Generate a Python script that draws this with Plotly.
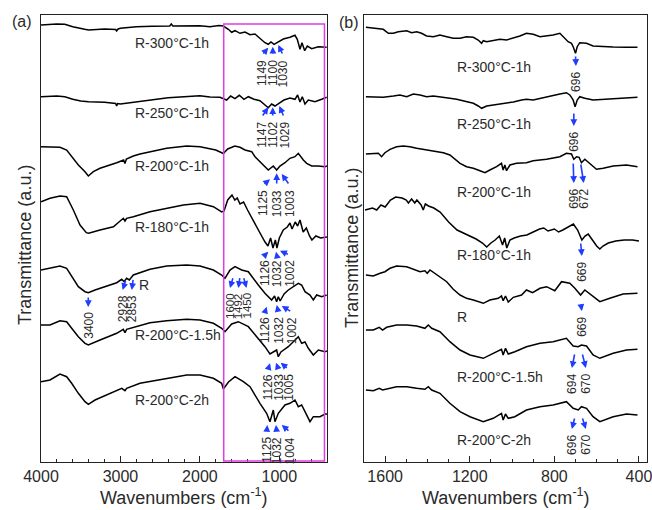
import plotly.graph_objects as go

# ---------------- DATA: panel (a), full range 4000-400 cm-1 (values in a.u., stacked) ----------------
a_labels = ["R-300°C-1h", "R-250°C-1h", "R-200°C-1h", "R-180°C-1h", "R", "R-200°C-1.5h", "R-200°C-2h"]

a_r300_wn = [4000, 3800, 3700, 3600, 3450, 3400, 3200, 3060, 3048, 3030, 3000, 2800, 2600, 2380, 2360, 2340,
             2000, 1873, 1760, 1705, 1642, 1600, 1558, 1495, 1432, 1369, 1307, 1244, 1181, 1139, 1105, 1067,
             1013, 950, 866, 803, 774, 740, 715, 681, 648, 593, 509, 404]
a_r300_t = [437, 438, 437.7, 435.3, 432.7, 432, 433, 432.5, 431, 433, 433.7, 435.3, 435.7, 436, 438, 436,
            436.3, 435.3, 436.5, 436, 432.7, 429.7, 431.3, 428.7, 430, 427.3, 428, 423.7, 419.3, 417.7, 420, 417.7,
            420.3, 423, 424.7, 426.7, 422.7, 412.7, 419.3, 411.3, 416, 413.3, 415.3, 414.7]

a_r250_wn = [4000, 3800, 3700, 3600, 3500, 3400, 3200, 3060, 3048, 3035, 3000, 2800, 2600, 2400, 2000, 1873,
             1747, 1663, 1613, 1558, 1504, 1445, 1390, 1319, 1244, 1181, 1139, 1097, 1055, 1005, 942, 866, 803,
             770, 740, 711, 677, 635, 551, 467, 404]
a_r250_t = [365.3, 366, 365.3, 362.7, 361, 360.3, 359.7, 358.5, 356, 358.5, 358, 360.3, 362.7, 364.3, 366.3, 365,
            364.7, 362, 366, 363.3, 366.7, 362.7, 365.3, 362.7, 361.3, 357, 354.3, 358, 356, 358.7, 362, 364, 362.7,
            367, 360, 365.3, 358, 362, 360.3, 362.7, 364.7]

a_r200_wn = [4000, 3887, 3761, 3677, 3614, 3530, 3446, 3404, 3341, 3257, 3047, 2960, 2943, 2925, 2838, 2754,
             2418, 2166, 1998, 1900, 1800, 1705, 1684, 1650, 1560, 1495, 1432, 1348, 1306, 1223, 1139, 1076,
             1034, 992, 929, 866, 803, 761, 727, 698, 656, 593, 509, 425, 400]
a_r200_t = [315.3, 315.3, 314.7, 312, 305.3, 297, 290.3, 286, 290.3, 293.7, 299.3, 302, 298.5, 303, 306, 308,
            313.7, 316, 315.3, 313.5, 312, 308.5, 310.3, 313, 316, 314.7, 312, 310.3, 305.3, 298.7, 292, 296,
            292, 296, 299.3, 303.7, 305.3, 308.7, 304.7, 302, 298.7, 296, 296, 295.3, 296]

a_r180_wn = [4000, 3887, 3761, 3677, 3593, 3509, 3430, 3400, 3257, 3089, 2964, 2943, 2922, 2838, 2628, 2418,
             2208, 1998, 1830, 1726, 1696, 1650, 1596, 1560, 1530, 1495, 1450, 1400, 1330, 1250, 1180, 1143,
             1110, 1080, 1050, 1030, 1000, 950, 900, 866, 840, 800, 770, 740, 700, 660, 620, 590, 540, 480, 400]
a_r180_t = [260.3, 263.7, 266, 265.3, 252, 237, 229.3, 228.7, 232, 235.3, 243.7, 241, 243.7, 245.3, 250.3, 253.7,
            257, 258.7, 255.3, 250, 251, 262, 267, 262, 264, 258, 260, 252, 241, 230, 220, 216,
            224, 214, 222, 214, 224, 232, 235, 239, 233, 240, 236, 242, 230, 234, 226, 222, 226, 224, 225]

a_r_wn = [4000, 3887, 3761, 3677, 3614, 3530, 3446, 3404, 3320, 3257, 3173, 3047, 2984, 2955, 2922, 2888, 2838,
          2628, 2418, 2166, 1998, 1830, 1726, 1684, 1621, 1558, 1474, 1390, 1265, 1181, 1097, 1060, 1034, 1013,
          990, 940, 887, 803, 761, 719, 677, 614, 572, 530, 467, 404]
a_r_t = [192, 193.7, 196, 193.7, 185.3, 175.3, 170.3, 169.3, 172, 173.7, 175.3, 179.3, 182.7, 180.3, 183.7, 182, 187,
         192.7, 196, 197, 196, 192, 187, 183.7, 192, 195.3, 192, 190.3, 177, 168.7, 162, 166, 160.3, 165.3,
         161, 168, 172, 177, 178.7, 177, 170.3, 167, 162, 167, 165.3, 167]

a_r15_wn = [4000, 3887, 3761, 3677, 3614, 3530, 3446, 3404, 3257, 3047, 2964, 2943, 2922, 2838, 2628, 2418, 2166,
            1998, 1830, 1726, 1684, 1600, 1516, 1390, 1265, 1181, 1118, 1070, 1034, 1013, 980, 887, 803, 761, 719,
            677, 635, 572, 509, 425, 400]
a_r15_t = [137, 137, 141.3, 140.3, 133.7, 125.3, 118.7, 117, 122, 128.7, 132.7, 129.3, 132.7, 134.7, 139.3, 141.3, 142.7,
           142, 138.7, 133.7, 130.3, 138, 140.3, 135.3, 123.7, 115.3, 108, 110, 112, 105.3, 110, 115.3, 122, 125.3, 118.7,
           120, 113.7, 107, 112, 110.3, 111]

a_r2_wn = [4000, 3887, 3761, 3677, 3614, 3530, 3446, 3404, 3320, 3150, 2984, 2943, 2922, 2754, 2418, 2166, 1998,
           1830, 1726, 1705, 1640, 1558, 1453, 1369, 1244, 1160, 1118, 1076, 1055, 1013, 929, 866, 803, 761, 719,
           677, 614, 572, 488, 425, 400]
a_r2_t = [80.3, 82, 88, 85.3, 78.7, 68.7, 60.3, 57.7, 62, 68, 73.7, 71.3, 73.7, 78.7, 83.7, 87, 87,
          83.7, 78.7, 73, 80, 85.3, 80.3, 75.3, 58.7, 48.7, 40.3, 52, 40.3, 48.7, 57, 58.7, 62, 55.3, 57,
          50.3, 40.3, 45.3, 45.3, 48, 48]

# ---------------- DATA: panel (b), 1700-400 cm-1 ----------------
b_r300_wn = [1691, 1656, 1609, 1585, 1561, 1538, 1498, 1475, 1451, 1428, 1404, 1372, 1341, 1309, 1278, 1246, 1215,
             1183, 1160, 1144, 1136, 1120, 1089, 1057, 1026, 994, 963, 932, 900, 868, 837, 806, 774, 758, 735, 719,
             711, 700, 692, 680, 648, 617, 569, 522, 459, 407]
b_r300_t = [434.7, 433.7, 432.7, 428.7, 428.7, 430.3, 431.3, 429.3, 430.3, 428.7, 426, 425.3, 427, 425.3, 423.7, 423.7, 425.3,
            424.7, 422, 418.7, 421.3, 420.3, 421.3, 422.7, 422, 423.7, 426, 428.7, 427.7, 425.3, 426, 427, 428.7, 425.3, 420.3, 418.7,
            415.3, 408.7, 415.3, 419.3, 418.7, 416, 415.3, 415, 414.7, 414.7]

b_r250_wn = [1691, 1656, 1609, 1561, 1530, 1498, 1467, 1435, 1404, 1372, 1341, 1294, 1262, 1215, 1183, 1160, 1144,
             1120, 1089, 1057, 1026, 994, 955, 932, 900, 868, 837, 806, 774, 743, 727, 719, 711, 702, 692, 680,
             656, 617, 569, 522, 459, 407]
b_r250_t = [365.3, 365.3, 364.7, 366, 367, 365.3, 368, 367, 365.3, 366, 365.3, 363.7, 362.7, 360.3, 358.7, 356, 353.7,
            356, 357, 358, 358.7, 360, 362, 362.7, 362, 363.7, 365.3, 367, 368, 369.3, 367, 364.7, 362, 355.3, 362, 365.3,
            363.7, 362, 362.7, 362.7, 363.7, 364.7]

b_r200_wn = [1691, 1656, 1632, 1617, 1601, 1577, 1546, 1514, 1483, 1451, 1420, 1388, 1357, 1325, 1294, 1270, 1246,
             1215, 1183, 1152, 1128, 1105, 1073, 1050, 1042, 1034, 1026, 1010, 979, 932, 900, 837, 774, 743, 719,
             708, 695, 683, 672, 656, 632, 601, 569, 522, 459, 407]
b_r200_t = [308, 308, 308.7, 305.3, 309.3, 312.7, 315.3, 316, 315.3, 313.7, 312.7, 311.3, 310.3, 309.3, 307, 302.7, 298.7,
            295.3, 293.7, 291.3, 289.3, 292, 295.3, 298.7, 292, 297, 291.3, 297, 298.7, 299.3, 301.3, 302.7, 305.3, 308.7, 308,
            302.7, 305.3, 304.7, 299.3, 302.7, 298.7, 292.7, 293.7, 296, 297, 295.3]

b_r180_wn = [1695, 1660, 1640, 1620, 1600, 1575, 1550, 1520, 1500, 1490, 1475, 1460, 1450, 1430, 1420, 1410, 1395,
             1370, 1340, 1300, 1260, 1230, 1200, 1170, 1140, 1120, 1100, 1080, 1060, 1045, 1035, 1025, 1010, 990,
             960, 930, 900, 870, 850, 830, 800, 780, 760, 730, 710, 690, 670, 655, 640, 620, 600, 585, 570, 545,
             510, 470, 430, 400]
b_r180_t = [252, 254, 252, 257, 255, 262, 265, 264, 262, 259, 263, 259, 262, 257, 252, 258, 256,
            254, 250, 240, 232, 229, 226, 223, 219, 215, 219, 222, 226, 217, 224, 214, 222, 224,
            226, 227, 230, 233, 234, 231, 233, 230, 232, 236, 238, 232, 222, 226, 228, 222, 216, 213, 216, 219,
            221, 222, 222, 221]

b_r_wn = [1691, 1656, 1624, 1601, 1577, 1546, 1498, 1467, 1435, 1412, 1401, 1388, 1365, 1341, 1309, 1278, 1246,
          1215, 1183, 1136, 1105, 1065, 1050, 1042, 1031, 1018, 994, 955, 932, 903, 868, 837, 798, 766, 727, 703,
          676, 656, 617, 585, 538, 475, 407]
b_r_t = [187, 186, 188.7, 190.3, 193.7, 196, 195.3, 192.7, 190.3, 191.3, 188.7, 192, 188.7, 185.3, 180.3, 172.7, 167,
         163.7, 162, 158.7, 162, 163.7, 166, 161.3, 166, 160, 164.7, 167, 172, 169.3, 173.7, 175.3, 171.3, 180.3, 178.7, 173.7,
         167, 172, 165.3, 160.3, 163.7, 168, 168.7]

b_r15_wn = [1691, 1656, 1628, 1612, 1593, 1546, 1498, 1451, 1412, 1396, 1380, 1341, 1294, 1246, 1199, 1136, 1089,
            1050, 1042, 1031, 1018, 987, 932, 868, 806, 743, 711, 687, 672, 648, 617, 585, 522, 459, 407]
b_r15_t = [132, 132, 134.7, 132, 134.7, 137, 137, 136, 133.7, 137, 133.7, 130.3, 120.3, 112, 107, 103.7, 108.7,
           112.7, 107, 113.7, 108, 110.3, 115.3, 118.7, 120.3, 123.7, 116, 115.3, 117, 116, 107, 103.7, 108.7, 112, 112.7]

b_r2_wn = [1691, 1656, 1628, 1612, 1546, 1498, 1451, 1412, 1396, 1380, 1341, 1294, 1246, 1199, 1136, 1089, 1050,
           1042, 1031, 1018, 987, 932, 868, 806, 743, 711, 687, 672, 648, 617, 585, 522, 459, 407]
b_r2_t = [72, 71.3, 73.7, 72, 75.3, 75.3, 73.7, 72.7, 75.3, 72, 68.7, 58.7, 50.3, 45.3, 40.3, 43.7, 48.7,
          42, 48, 43.7, 45.3, 52, 55.3, 57, 60.3, 53.7, 52, 55.3, 53.7, 45.3, 40.3, 45.3, 48, 47]

# peak labels (wavenumbers, cm-1)
a_peaks = [["1149", "1100", "1030"], ["1147", "1102", "1029"], ["1125", "1033", "1003"],
           ["1126", "1032", "1002"], ["1126", "1032", "1002"], ["1126", "1033", "1005"], ["1125", "1032", "1004"]]
a_peaks_r_oh = ["3400", "2928", "2853"]
a_peaks_r_arom = ["1600", "1492", "1450"]
b_peaks = [["696"], ["696"], ["696", "672"], ["669"], ["669"], ["694", "670"], ["696", "670"]]

# ---------------- FIGURE ----------------
W, H = 652, 510
FONT = "Liberation Sans, Arial, Helvetica, sans-serif"
TXT = "#2a2a2a"
BLUE = "#1f3cff"
MAG = "#e33be3"

fig = go.Figure()
a_series = [(a_r300_wn, a_r300_t), (a_r250_wn, a_r250_t), (a_r200_wn, a_r200_t), (a_r180_wn, a_r180_t),
            (a_r_wn, a_r_t), (a_r15_wn, a_r15_t), (a_r2_wn, a_r2_t)]
b_series = [(b_r300_wn, b_r300_t), (b_r250_wn, b_r250_t), (b_r200_wn, b_r200_t), (b_r180_wn, b_r180_t),
            (b_r_wn, b_r_t), (b_r15_wn, b_r15_t), (b_r2_wn, b_r2_t)]
for (xw, yt), name in zip(a_series, a_labels):
    fig.add_trace(go.Scatter(x=xw, y=yt, mode="lines", name=name, line=dict(color="black", width=1.5),
                             xaxis="x", yaxis="y", showlegend=False, hoverinfo="skip"))
for (xw, yt), name in zip(b_series, a_labels):
    fig.add_trace(go.Scatter(x=xw, y=yt, mode="lines", name=name, line=dict(color="black", width=1.5),
                             xaxis="x2", yaxis="y2", showlegend=False, hoverinfo="skip"))

ydom = [48 / H, 495 / H]
axis_common = dict(showline=True, mirror=True, linecolor="#222", linewidth=1.3, showgrid=False, zeroline=False,
                   automargin=False)
fig.update_layout(
    template="none",
    width=W, height=H, margin=dict(l=0, r=0, t=0, b=0, pad=0, autoexpand=False),
    paper_bgcolor="white", plot_bgcolor="white",
    font=dict(family=FONT, color=TXT),
    xaxis=dict(domain=[41 / W, 327 / W], range=[4000, 400], anchor="y", ticks="inside", ticklen=6, tickwidth=1.2,
               tickcolor="#222", tick0=0, dtick=1000, tickfont=dict(size=16, color=TXT), ticklabeloverflow="allow",
               minor=dict(ticks="inside", ticklen=3, tickwidth=1, tickcolor="#222", dtick=200), **axis_common),
    yaxis=dict(domain=ydom, range=[0, 447], anchor="x", showticklabels=False, ticks="", **axis_common),
    xaxis2=dict(domain=[364 / W, 647 / W], range=[1700, 362], anchor="y2", ticks="inside", ticklen=6, tickwidth=1.2,
                tickcolor="#222", tick0=0, dtick=400, tickfont=dict(size=16, color=TXT), ticklabeloverflow="allow",
                minor=dict(ticks="inside", ticklen=3, tickwidth=1, tickcolor="#222", dtick=100), **axis_common),
    yaxis2=dict(domain=ydom, range=[0, 447], anchor="x2", showticklabels=False, ticks="", **axis_common),
)

# magenta box in panel (a)
fig.add_shape(type="rect", xref="x", yref="y", x0=1700, x1=432, y0=1, y1=438,
              line=dict(color=MAG, width=1.5), fillcolor="rgba(0,0,0,0)")

ann = []
# curve labels
a_lab_pos = [(2838, 419), (2838, 349), (2838, 296), (2838, 235), (2792, 177), (2838, 127), (2838, 62)]
b_lab_pos = [(1270, 395), (1270, 338), (1270, 270), (1270, 207), (1270, 145), (1270, 85), (1270, 22)]
for lab, (x, y) in zip(a_labels, a_lab_pos):
    ann.append(dict(x=x, y=y, xref="x", yref="y", text=lab, showarrow=False, xanchor="left", yanchor="middle",
                    font=dict(size=14, color=TXT)))
for lab, (x, y) in zip(a_labels, b_lab_pos):
    ann.append(dict(x=x, y=y, xref="x2", yref="y2", text=lab, showarrow=False, xanchor="left", yanchor="middle",
                    font=dict(size=14, color=TXT)))


def peak_group(labels, text_x, text_top, curve_pts, down, ax_name, gap=3, size=12):
    xr, yr = ax_name
    for lab, tx, (cx, cy) in zip(labels, text_x, curve_pts):
        ann.append(dict(x=tx, y=text_top, xref=xr, yref=yr, text=lab, textangle=-90, showarrow=False,
                        xanchor="center", yanchor="top", font=dict(size=size, color=TXT)))
        tail_y = text_top + gap
        if down:
            ann.append(dict(x=tx, y=tail_y, ax=cx, ay=cy, xref=xr, yref=yr, axref=xr, ayref=yr, text="",
                            showarrow=True, arrowhead=2, arrowsize=0.85, arrowwidth=1.6, arrowcolor=BLUE))
        else:
            ann.append(dict(x=cx, y=cy, ax=tx, ay=tail_y, xref=xr, yref=yr, axref=xr, ayref=yr, text="",
                            showarrow=True, arrowhead=2, arrowsize=0.85, arrowwidth=1.6, arrowcolor=BLUE))


A = ("x", "y")
B = ("x2", "y2")
# panel (a) fingerprint groups
peak_group(a_peaks[0], [1218, 1080, 954], 404, [(1139, 414.3), (1083, 415.3), (1013, 417)], False, A)
peak_group(a_peaks[1], [1222, 1083, 941], 342, [(1139, 354.7), (1083, 354.7), (1000, 356)], False, A)
peak_group(a_peaks[2], [1205, 1033, 872], 274, [(1117, 282.7), (1033, 288.7), (970, 288)], False, A)
peak_group(a_peaks[3], [1180, 1033, 874], 204, [(1139, 210.3), (1042, 210.3), (991, 211.3)], False, A)
peak_group(a_peaks[4], [1180, 1013, 844], 147, [(1159, 155.3), (1033, 157), (970, 156)], False, A)
peak_group(a_peaks[5], [1139, 1013, 887], 90, [(1117, 98.7), (1042, 99.3), (983, 99.3)], False, A)
peak_group(a_peaks[6], [1159, 1033, 866], 27, [(1151, 37), (1042, 37), (970, 37)], False, A)
# panel (a) raw-sample groups
peak_group(a_peaks_r_oh[:1], [3405], 152, [(3405, 166)], True, A)
peak_group(a_peaks_r_oh[1:], [2972, 2858], 169, [(2930, 182.7), (2838, 183.7)], True, A)
peak_group(a_peaks_r_arom, [1621, 1516, 1413], 171, [(1579, 185.3), (1495, 185.3), (1453, 185.3)], True, A, size=11.5)
# panel (b)
peak_group(b_peaks[0], [698], 392, [(700, 407)], True, B, gap=4)
peak_group(b_peaks[1], [708], 332, [(708, 350)], True, B, gap=4)
peak_group(b_peaks[2], [708, 661], 275, [(711, 300), (676, 299)], True, B, gap=4)
peak_group(b_peaks[3], [670], 202, [(676, 220)], True, B, gap=4)
peak_group(b_peaks[4], [670], 147, [(676, 159)], True, B, gap=4)
peak_group(b_peaks[5], [717, 651], 90, [(703, 109), (669, 109)], True, B, gap=4)
peak_group(b_peaks[6], [717, 651], 29, [(703, 45), (669, 45)], True, B, gap=4)

# titles and panel letters (paper coordinates)
def px(xp):
    return xp / W


def py(yp):
    return 1 - yp / H


def paper_text(x, y, text, size, angle=0):
    ann.append(dict(x=px(x), y=py(y), xref="paper", yref="paper", text=text, textangle=angle, showarrow=False,
                    xanchor="center", yanchor="middle", font=dict(size=size, color=TXT)))


paper_text(184, 496, "Wavenumbers (cm<sup>-1</sup>)", 18)
paper_text(505.5, 496, "Wavenumbers (cm<sup>-1</sup>)", 18)
paper_text(25, 245, "Transmittance (a.u.)", 18, -90)
paper_text(352, 248, "Transmittance (a.u.)", 18, -90)
paper_text(22, 22, "(a)", 16)
paper_text(349, 23, "(b)", 16)

fig.update_layout(annotations=ann)
fig.write_html("out.html", config={"displayModeBar": False},
               post_script="document.body.style.margin='0px';document.body.style.padding='0px';")
